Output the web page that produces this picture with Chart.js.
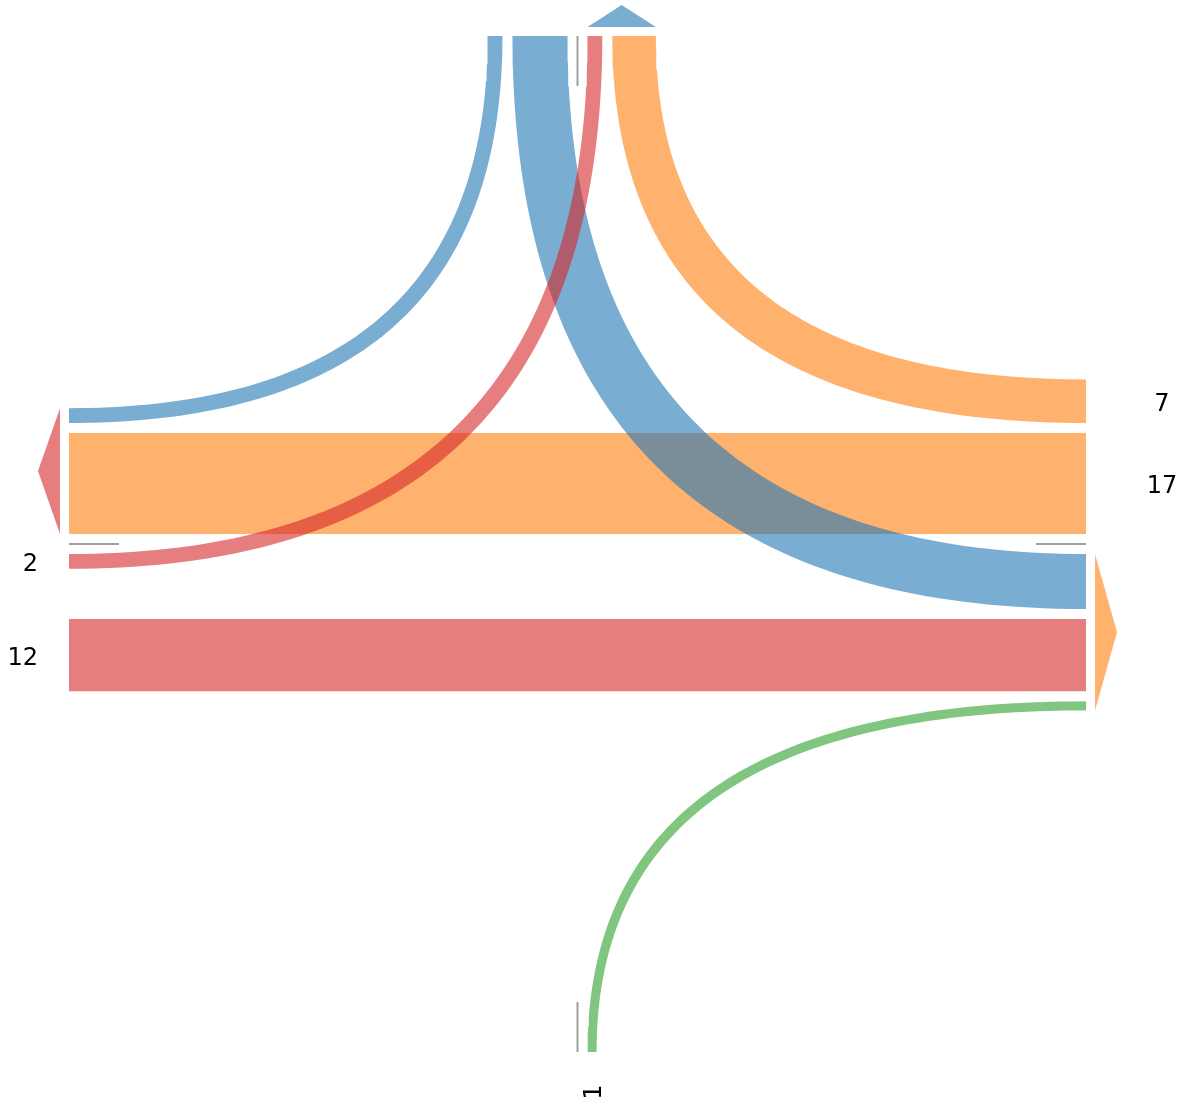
<!DOCTYPE html>
<html>
<head>
<meta charset="utf-8">
<script src="https://cdn.jsdelivr.net/npm/chart.js@4.4.1/dist/chart.umd.min.js"></script>
<style>
  body { margin: 0; background: #fff; }
  #wrap { width: 1183px; height: 1101px; }
</style>
</head>
<body>
<div id="wrap"><canvas id="myChart" width="1183" height="1101"></canvas></div>
<script>
// flows through the crossing (drawing order: first one is at the bottom)
var flowNames  = ['orange straight', 'red straight', 'blue left', 'blue right', 'red left', 'orange right', 'green'];
var flowValues = [17, 12, 2, 9, 2, 7, 1];
var flowFrom   = ['left', 'left', 'top', 'top', 'top', 'top', 'right'];
var flowTo     = ['right', 'right', 'left', 'right', 'left', 'right', 'bottom'];
var flowColors = ['rgba(255,127,14,0.6)', 'rgba(214,39,40,0.6)', 'rgba(31,119,180,0.6)',
                  'rgba(31,119,180,0.6)', 'rgba(214,39,40,0.6)', 'rgba(255,127,14,0.6)', 'rgba(44,160,44,0.6)'];
var flowLabels = ['17', '12', '', '', '2', '7', '1'];
var labelSides = ['right', 'left', '', '', 'left', 'right', 'bottom'];

// arrows on the sides
var arrowSides  = ['top', 'left', 'right'];
var arrowHalves = ['plus', 'minus', 'plus'];
var arrowColors = ['rgba(31,119,180,0.6)', 'rgba(214,39,40,0.6)', 'rgba(255,127,14,0.6)'];

// order of the ports on each side, going out from the middle
var stackOrder = {
  top:    { minus: ['blue right', 'blue left'], plus: ['red left', 'orange right'] },
  left:   { minus: ['orange straight', 'blue left'], plus: ['red left', 'red straight'] },
  right:  { minus: ['orange straight', 'orange right'], plus: ['blue right', 'red straight', 'green'] },
  bottom: { minus: [], plus: ['green'] }
};

// layout (in axis units, 1 unit = 1 px)
var UNIT = 5.75, EDGE = 3.3, GAP = 10;
var sideLine = { top: 36, bottom: 1052, left: 69, right: 1086 };
var MID_X = 577.5, MID_Y = 544;
var sideCentre = { top: MID_X, bottom: MID_X, left: MID_Y, right: MID_Y };
var MARK_LEN = 50, ARROW_OFF = 9, ARROW_LEN = 22;

function W(v) { return v * UNIT + EDGE; }
function isStraight(i) {
  var a = flowFrom[i], b = flowTo[i];
  return (a === 'left' || a === 'right') && (b === 'left' || b === 'right');
}

var dist = {};
function stackPorts() {
  var forced = {};
  for (var pass = 0; pass < 3; pass++) {
    Object.keys(stackOrder).forEach(function (side) {
      dist[side] = {};
      ['minus', 'plus'].forEach(function (half) {
        var d = GAP;
        stackOrder[side][half].forEach(function (name) {
          var i = flowNames.indexOf(name);
          if (forced[name] !== undefined && forced[name] > d) d = forced[name];
          dist[side][name] = { d: d, half: half };
          d += W(flowValues[i]) + GAP;
        });
      });
    });
    flowNames.forEach(function (name, i) {
      if (isStraight(i)) forced[name] = Math.max(dist[flowFrom[i]][name].d, dist[flowTo[i]][name].d);
    });
  }
}
stackPorts();

function port(side, i) {
  var p = dist[side][flowNames[i]], c = sideCentre[side], w = W(flowValues[i]);
  return p.half === 'minus' ? [c - p.d - w, c - p.d] : [c + p.d, c + p.d + w];
}

function bezier(x0, y0, cx, cy, x1, y1) {
  var pts = [], n = 80;
  for (var k = 0; k <= n; k++) {
    var t = k / n, u = 1 - t;
    pts.push({ x: u * u * x0 + 2 * u * t * cx + t * t * x1, y: u * u * y0 + 2 * u * t * cy + t * t * y1 });
  }
  return pts;
}

function flowShape(i) {
  var a = flowFrom[i], b = flowTo[i];
  if (isStraight(i)) {
    var p = port('left', i);
    return [{ x: sideLine.left, y: p[0] }, { x: sideLine.right, y: p[0] },
            { x: sideLine.right, y: p[1] }, { x: sideLine.left, y: p[1] }];
  }
  var v = (a === 'top' || a === 'bottom') ? a : b;
  var h = v === a ? b : a;
  var px = port(v, i), py = port(h, i);
  var yV = sideLine[v], xH = sideLine[h];
  var dx = h === 'left' ? -1 : 1, dy = v === 'top' ? -1 : 1;
  var xo = dx > 0 ? px[0] : px[1], xi = dx > 0 ? px[1] : px[0];
  var yo = dy > 0 ? py[0] : py[1], yi = dy > 0 ? py[1] : py[0];
  return bezier(xo, yV, xo, yo, xH, yo).concat(bezier(xH, yi, xi, yi, xi, yV));
}

function markerLine(side) {
  var s = sideLine[side];
  if (side === 'top') return [{ x: MID_X, y: s }, { x: MID_X, y: s + MARK_LEN }];
  if (side === 'bottom') return [{ x: MID_X, y: s }, { x: MID_X, y: s - MARK_LEN }];
  if (side === 'left') return [{ x: s, y: MID_Y }, { x: s + MARK_LEN, y: MID_Y }];
  return [{ x: s, y: MID_Y }, { x: s - MARK_LEN, y: MID_Y }];
}

function arrowShape(j) {
  var side = arrowSides[j], names = stackOrder[side][arrowHalves[j]];
  var lo = Infinity, hi = -Infinity;
  names.forEach(function (name) {
    var p = port(side, flowNames.indexOf(name));
    lo = Math.min(lo, p[0]); hi = Math.max(hi, p[1]);
  });
  var mid = (lo + hi) / 2, s = sideLine[side];
  if (side === 'top') return [{ x: lo, y: s - ARROW_OFF }, { x: hi, y: s - ARROW_OFF }, { x: mid, y: s - ARROW_OFF - ARROW_LEN }];
  if (side === 'bottom') return [{ x: lo, y: s + ARROW_OFF }, { x: hi, y: s + ARROW_OFF }, { x: mid, y: s + ARROW_OFF + ARROW_LEN }];
  if (side === 'left') return [{ x: s - ARROW_OFF, y: lo }, { x: s - ARROW_OFF, y: hi }, { x: s - ARROW_OFF - ARROW_LEN, y: mid }];
  return [{ x: s + ARROW_OFF, y: lo }, { x: s + ARROW_OFF, y: hi }, { x: s + ARROW_OFF + ARROW_LEN, y: mid }];
}

var datasets = [];
function shapeSet(pts, color) {
  return { data: pts, backgroundColor: color, borderColor: 'rgba(0,0,0,0)', borderWidth: 0,
           fill: 'shape', pointRadius: 0, tension: 0 };
}
flowNames.forEach(function (name, i) { datasets.push(shapeSet(flowShape(i), flowColors[i])); });
['top', 'left', 'right', 'bottom'].forEach(function (side) {
  datasets.push({ data: markerLine(side), borderColor: 'rgba(150,150,150,0.9)', borderWidth: 2,
                  fill: false, pointRadius: 0 });
});
arrowSides.forEach(function (side, j) { datasets.push(shapeSet(arrowShape(j), arrowColors[j])); });
datasets.forEach(function (d, k) { d.order = datasets.length - k; });

// value labels next to the ports
var labelPlugin = {
  id: 'flowLabels',
  afterDatasetsDraw: function (chart) {
    var ctx = chart.ctx, xs = chart.scales.x, ys = chart.scales.y;
    var size = 24, cap = size * 0.729;
    ctx.save();
    ctx.font = size + 'px "DejaVu Sans"';
    ctx.fillStyle = '#000';
    ctx.textBaseline = 'alphabetic';
    flowLabels.forEach(function (txt, i) {
      if (!txt) return;
      var side = labelSides[i], p = port(side, i), c = (p[0] + p[1]) / 2;
      if (side === 'right') {
        ctx.textAlign = 'center';
        ctx.fillText(txt, xs.getPixelForValue(sideLine.right + 76), ys.getPixelForValue(c + 1) + cap / 2);
      } else if (side === 'left') {
        ctx.textAlign = 'right';
        ctx.fillText(txt, xs.getPixelForValue(sideLine.left - 31), ys.getPixelForValue(c + 1) + cap / 2);
      } else {
        ctx.save();
        ctx.translate(xs.getPixelForValue(c), ys.getPixelForValue(sideLine.bottom + 40));
        ctx.rotate(-Math.PI / 2);
        ctx.textAlign = 'center';
        ctx.fillText(txt, 0, cap / 2);
        ctx.restore();
      }
    });
    ctx.restore();
  }
};

var ctx = document.getElementById('myChart').getContext('2d');
var myChart = new Chart(ctx, {
  type: 'line',
  data: { datasets: datasets },
  options: {
    responsive: false,
    devicePixelRatio: 1,
    animation: false,
    events: [],
    layout: { padding: 0 },
    scales: {
      x: { type: 'linear', min: 0, max: 1183, display: false },
      y: { type: 'linear', min: 0, max: 1101, reverse: true, display: false }
    },
    plugins: { legend: { display: false }, tooltip: { enabled: false } }
  },
  plugins: [labelPlugin]
});
</script>
</body>
</html>
